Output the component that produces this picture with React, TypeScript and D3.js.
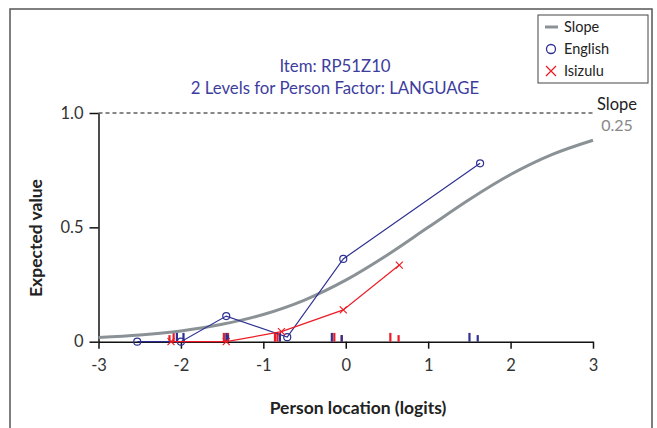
import React, { useRef, useEffect } from 'react';
import * as d3 from 'd3';

// ICC (slope curve)
const curveX = [-3, -2.5, -2, -1.5, -1, -0.5, 0, 0.5, 1, 1.5, 2, 2.5, 3];
const curveY = [0.018, 0.029, 0.047, 0.076, 0.119, 0.182, 0.269, 0.378, 0.5, 0.622, 0.731, 0.818, 0.881];

// class interval observed means
const englishX = [-2.53, -2.0, -1.45, -0.71, -0.03, 1.63];
const englishY = [0, 0, 0.112, 0.02, 0.362, 0.78];
const isizuluX = [-2.12, -1.45, -0.78, -0.03, 0.65];
const isizuluY = [0, 0, 0.044, 0.139, 0.335];

// person rug ticks (location, relative count)
const englishRugX = [-2.05, -1.97, -1.45, -1.43, -0.8, -0.17, -0.05, 1.5, 1.6];
const englishRugN = [4, 4, 4, 3, 4, 4, 3, 4, 3];
const isizuluRugX = [-2.14, -2.09, -1.48, -1.43, -0.86, -0.83, -0.14, -0.05, 0.54, 0.64];
const isizuluRugN = [3, 4, 4, 4, 4, 4, 4, 3, 4, 3];

const xTicks = [-3, -2, -1, 0, 1, 2, 3];
const yTicks = [0, 0.5, 1.0];

const BLUE = '#2e3192';
const RED = '#ed1c24';
const GREY = '#8a9296';
const FONT = 'Lato, "Open Sans", sans-serif';

const App = () => {
  const svgRef = useRef<SVGSVGElement>(null);

  useEffect(() => {
    const svg = d3.select(svgRef.current);
    svg.selectAll('*').remove();

    const x = d3.scaleLinear().domain([-3, 3]).range([98.5, 593]);
    const y = d3.scaleLinear().domain([0, 1]).range([341.7, 113]);

    // outer frame
    svg.append('path')
      .attr('d', 'M10,440 V9 H652 V440')
      .attr('fill', 'none').attr('stroke', '#555').attr('stroke-width', 1.5);

    // titles
    const title = svg.append('g').attr('font-family', FONT).attr('font-size', 16.8)
      .attr('fill', '#3d3d9e').attr('text-anchor', 'middle');
    title.append('text').attr('x', 335).attr('y', 72).text('Item: RP51Z10');
    title.append('text').attr('x', 335).attr('y', 94).text('2 Levels for Person Factor: LANGUAGE');

    // dashed top line
    svg.append('line')
      .attr('x1', x(-3)).attr('x2', x(3)).attr('y1', y(1)).attr('y2', y(1))
      .attr('stroke', '#111').attr('stroke-dasharray', '4,3').attr('stroke-width', 1.1);

    svg.append('text').attr('x', 617).attr('y', 110).attr('text-anchor', 'middle')
      .attr('font-family', FONT).attr('font-size', 16.5).attr('fill', '#222').text('Slope');
    svg.append('text').attr('x', 617).attr('y', 131).attr('text-anchor', 'middle')
      .attr('font-family', FONT).attr('font-size', 16).attr('fill', '#888').text('0.25');

    // axes
    const xAxis = svg.append('g')
      .attr('transform', `translate(0,${y(0)})`)
      .call(d3.axisBottom(x).tickValues(xTicks).tickSize(7).tickPadding(11).tickSizeOuter(0)
        .tickFormat((d: any) => String(d)));
    const yAxis = svg.append('g')
      .attr('transform', `translate(${x(-3)},0)`)
      .call(d3.axisLeft(y).tickValues(yTicks).tickSize(9).tickPadding(6).tickSizeOuter(0)
        .tickFormat((d: any) => (d === 0 ? '0' : d3.format('.1f')(d))));
    [xAxis, yAxis].forEach(a => {
      a.select('.domain').attr('stroke', '#111').attr('stroke-width', 1.5);
      a.selectAll('.tick line').attr('stroke', '#111').attr('stroke-width', 1.5);
      a.selectAll('.tick text').attr('font-family', FONT).attr('font-size', 16.5).attr('fill', '#333');
    });

    svg.append('text').attr('x', 358).attr('y', 414).attr('text-anchor', 'middle')
      .attr('font-family', FONT).attr('font-size', 17.5).attr('font-weight', 'bold').attr('fill', '#222')
      .text('Person location (logits)');
    svg.append('text')
      .attr('transform', 'translate(42,238) rotate(-90)').attr('text-anchor', 'middle')
      .attr('font-family', FONT).attr('font-size', 17.5).attr('font-weight', 'bold').attr('fill', '#222')
      .text('Expected value');

    // rug ticks
    const rug = (xs: number[], ns: number[], color: string) => {
      svg.append('g').selectAll('rect').data(xs).enter().append('rect')
        .attr('x', d => x(d) - 1)
        .attr('width', 2.2)
        .attr('y', (d, i) => y(0) - ns[i] * 2.2)
        .attr('height', (d, i) => ns[i] * 2.2)
        .attr('fill', color);
    };
    rug(isizuluRugX, isizuluRugN, RED);
    rug(englishRugX, englishRugN, BLUE);

    // ICC curve
    const line = d3.line<number>().x((d, i) => x(curveX[i])).y(d => y(d)).curve(d3.curveMonotoneX);
    svg.append('path').attr('d', line(curveY)).attr('fill', 'none')
      .attr('stroke', GREY).attr('stroke-width', 3);

    // English
    const eLine = d3.line<number>().x((d, i) => x(englishX[i])).y(d => y(d));
    svg.append('path').attr('d', eLine(englishY)).attr('fill', 'none').attr('stroke', BLUE).attr('stroke-width', 1.2);
    svg.append('g').selectAll('circle').data(englishY).enter().append('circle')
      .attr('cx', (d, i) => x(englishX[i])).attr('cy', d => y(d)).attr('r', 3.5)
      .attr('fill', 'none').attr('stroke', BLUE).attr('stroke-width', 1.2);

    // Isizulu
    const zLine = d3.line<number>().x((d, i) => x(isizuluX[i])).y(d => y(d));
    svg.append('path').attr('d', zLine(isizuluY)).attr('fill', 'none').attr('stroke', RED).attr('stroke-width', 1.2);
    const s = 3.5;
    svg.append('g').selectAll('path').data(isizuluY).enter().append('path')
      .attr('d', (d, i) => {
        const cx = x(isizuluX[i]), cy = y(d);
        return `M${cx - s},${cy - s}L${cx + s},${cy + s}M${cx - s},${cy + s}L${cx + s},${cy - s}`;
      })
      .attr('stroke', RED).attr('stroke-width', 1.2);

    // legend
    const lg = svg.append('g').attr('font-family', FONT).attr('font-size', 14.5).attr('fill', '#222');
    lg.append('rect').attr('x', 538).attr('y', 15).attr('width', 110).attr('height', 68)
      .attr('fill', 'white').attr('stroke', '#444').attr('stroke-width', 1);
    lg.append('line').attr('x1', 545).attr('x2', 558).attr('y1', 27).attr('y2', 27)
      .attr('stroke', GREY).attr('stroke-width', 3);
    lg.append('text').attr('x', 564).attr('y', 32).text('Slope');
    lg.append('circle').attr('cx', 551).attr('cy', 49).attr('r', 4.5)
      .attr('fill', 'none').attr('stroke', BLUE).attr('stroke-width', 1.3);
    lg.append('text').attr('x', 564).attr('y', 54).text('English');
    lg.append('path').attr('d', 'M546,66L556,76M546,76L556,66').attr('stroke', RED).attr('stroke-width', 1.3);
    lg.append('text').attr('x', 564).attr('y', 76).text('Isizulu');
  }, []);

  return (
    <svg ref={svgRef} width={657} height={428}
      style={{ position: 'absolute', left: 0, top: 0, background: 'white' }} />
  );
};

export default App;
